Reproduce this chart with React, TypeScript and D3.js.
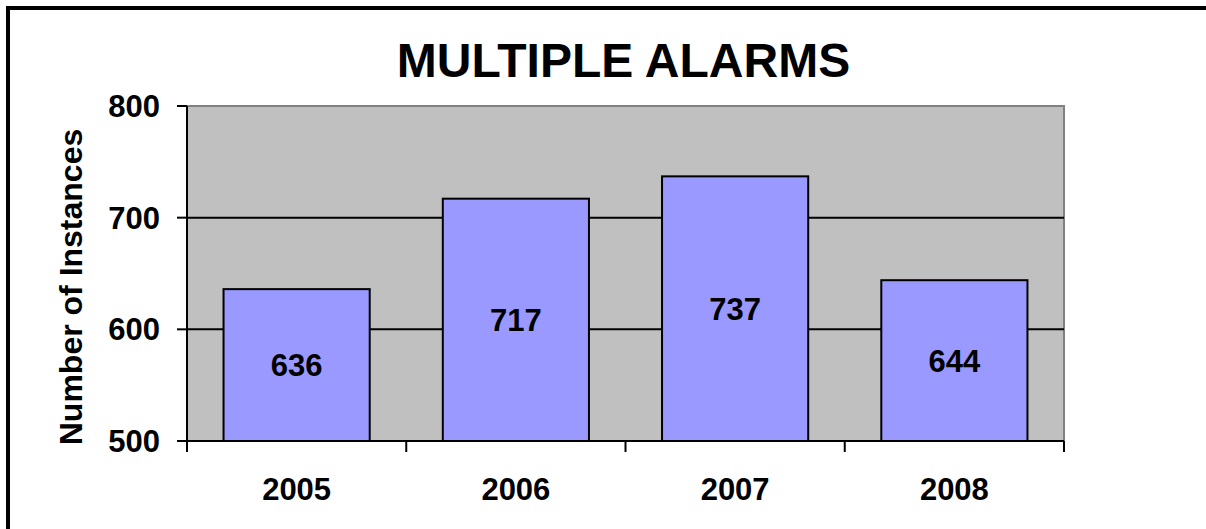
import * as d3 from "d3";

const years = ["2005", "2006", "2007", "2008"];
const instances = [636, 717, 737, 644];
const yTicks = [500, 600, 700, 800];

const W = 1206;
const H = 529;
const FONT = "Arial, 'Liberation Sans', sans-serif";

export default function App() {
  const left = 187;
  const right = 1064;
  const top = 106;
  const bottom = 441;

  const x = d3.scaleBand<string>().domain(years).range([left, right]).paddingInner(0).paddingOuter(0);
  const y = d3.scaleLinear().domain([500, 800]).range([bottom, top]);

  // excel gap width 50%
  const barW = x.bandwidth() / 1.5;
  const boundaries = [...years.map((d) => x(d) as number), right];

  return (
    <div style={{ position: "fixed", left: 0, top: 0 }}>
      <svg width={W} height={H} style={{ display: "block", background: "#fff" }} fontFamily={FONT}>
        {/* chart frame */}
        <rect x={8} y={8} width={W + 100} height={H + 100} fill="#fff" stroke="#000" strokeWidth={4} />

        <text x={623.5} y={77} textAnchor="middle" fontSize={48} fontWeight="bold">
          MULTIPLE ALARMS
        </text>

        {/* plot area */}
        <rect x={left} y={top} width={right - left} height={bottom - top} fill="#C0C0C0" />
        <path d={`M${left},${top}H${right}V${bottom}`} fill="none" stroke="#808080" strokeWidth={2} />

        {yTicks.slice(1, -1).map((t) => (
          <line key={t} x1={left} x2={right} y1={y(t)} y2={y(t)} stroke="#000" strokeWidth={2} />
        ))}

        {years.map((yr, i) => {
          const bx = (x(yr) as number) + (x.bandwidth() - barW) / 2;
          const by = y(instances[i]);
          return (
            <g key={yr}>
              <rect x={bx} y={by} width={barW} height={bottom - by} fill="#9999FF" stroke="#000" strokeWidth={2} />
              <text
                x={bx + barW / 2}
                y={(by + bottom) / 2}
                dy="0.36em"
                textAnchor="middle"
                fontSize={31}
                fontWeight="bold"
              >
                {instances[i]}
              </text>
            </g>
          );
        })}

        {/* axes */}
        <line x1={left} x2={left} y1={top} y2={bottom} stroke="#000" strokeWidth={2} />
        <line x1={left} x2={right} y1={bottom} y2={bottom} stroke="#000" strokeWidth={2} />

        {yTicks.map((t) => (
          <g key={t}>
            <line x1={left - 10} x2={left} y1={y(t)} y2={y(t)} stroke="#000" strokeWidth={2} />
            <text x={160} y={y(t)} dy="0.36em" textAnchor="end" fontSize={31} fontWeight="bold">
              {t}
            </text>
          </g>
        ))}

        {boundaries.map((b, i) => (
          <line key={i} x1={b} x2={b} y1={bottom} y2={bottom + 11} stroke="#000" strokeWidth={2} />
        ))}

        {years.map((yr) => (
          <text
            key={yr}
            x={(x(yr) as number) + x.bandwidth() / 2}
            y={500}
            textAnchor="middle"
            fontSize={31}
            fontWeight="bold"
          >
            {yr}
          </text>
        ))}

        <text
          transform={`translate(82,287) rotate(-90)`}
          textAnchor="middle"
          fontSize={32}
          fontWeight="bold"
        >
          Number of Instances
        </text>
      </svg>
    </div>
  );
}
